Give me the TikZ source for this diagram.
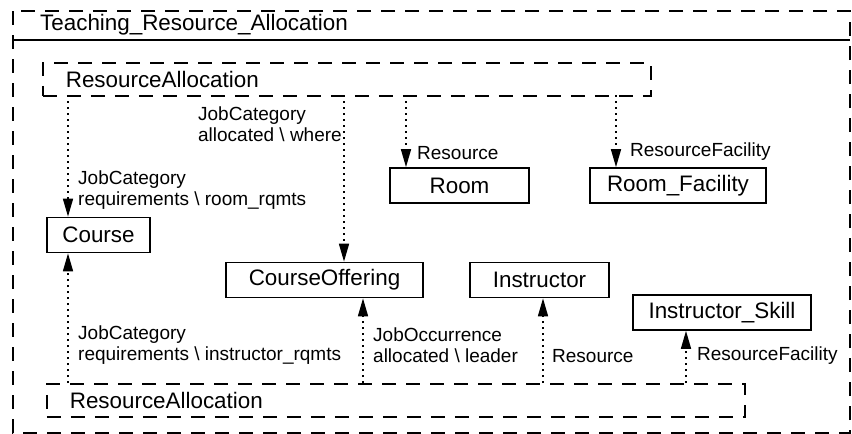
\documentclass[tikz,border=0pt]{standalone}
\usepackage{fontspec}
\setmainfont{Liberation Sans}
\usetikzlibrary{arrows.meta}

\begin{document}
\begin{tikzpicture}[x=1pt,y=-1pt,
    frame/.style={line width=1.7, dash pattern=on 14pt off 10pt},
    group/.style={frame, draw, anchor=north west, inner ysep=0pt, inner xsep=23pt,
        minimum height=33pt, align=left, font=\fontsize{22.4pt}{26pt}\selectfont},
    entity/.style={draw, line width=1.7, inner sep=0pt, minimum height=35pt,
        font=\fontsize{22.4pt}{26pt}\selectfont},
    link/.style={line width=1.6, dash pattern=on 2pt off 4pt,
        -{Triangle[length=18pt,width=10pt]}},
    tag/.style={inner sep=0pt, align=left, font=\fontsize{19pt}{21.5pt}\selectfont}]
    \useasboundingbox (0,0) rectangle (852,434);
    % outer frame
    \draw [frame] (13,11) rectangle (850,433);
    \draw [line width=1.7] (13,40) -- (850,40);
    \node [anchor=west, inner sep=0pt, font=\fontsize{22.4pt}{26pt}\selectfont] (title) at (40,25) {Teaching\_Resource\_Allocation};
    % top allocation
    \node [group, text width=562pt] (raTop) at (42,62) {ResourceAllocation};
    % bottom allocation
    \node [group, text width=652pt] (raBot) at (46,383) {ResourceAllocation};
    % entities
    \node [entity, minimum width=103pt] (course) at (98.5,235) {Course};
    \node [entity, minimum width=197pt] (offering) at (324.5,280) {CourseOffering};
    \node [entity, minimum width=139pt] (room) at (459.5,185.5) {Room};
    \node [entity, minimum width=176pt] (roomfac) at (678,185.5) {Room\_Facility};
    \node [entity, minimum width=139pt] (instr) at (539.5,280) {Instructor};
    \node [entity, minimum width=178pt] (skill) at (722,312.5) {Instructor\_Skill};
    % arrows down
    \coordinate (t1) at (68,95);
    \coordinate (t2) at (344,95);
    \coordinate (t3) at (406,95);
    \coordinate (t4) at (616,95);
    \draw [link] (t1) -- (t1 |- course.north);
    \draw [link] (t2) -- (t2 |- offering.north);
    \draw [link] (t3) -- (t3 |- room.north);
    \draw [link] (t4) -- (t4 |- roomfac.north);
    \node [tag, anchor=west] (l1) at (78,190) {JobCategory\\requirements \textbackslash{} room\_rqmts};
    \node [tag, anchor=east] (l2) at (342,124) {JobCategory\\allocated \textbackslash{} where};
    \node [tag, anchor=west] (l3) at (417,153) {Resource};
    \node [tag, anchor=west] (l4) at (630,152) {ResourceFacility};
    % arrows up
    \coordinate (b1) at (68,383);
    \coordinate (b2) at (363,383);
    \coordinate (b3) at (543,383);
    \coordinate (b4) at (686,383);
    \draw [link] (b1) -- (b1 |- course.south);
    \draw [link] (b2) -- (b2 |- offering.south);
    \draw [link] (b3) -- (b3 |- instr.south);
    \draw [link] (b4) -- (b4 |- skill.south);
    \node [tag, anchor=west] (l5) at (78,345) {JobCategory\\requirements \textbackslash{} instructor\_rqmts};
    \node [tag, anchor=west] (l6) at (373,345) {JobOccurrence\\allocated \textbackslash{} leader};
    \node [tag, anchor=west] (l7) at (552,356) {Resource};
    \node [tag, anchor=west] (l8) at (697,356) {ResourceFacility};
\end{tikzpicture}
\end{document}
